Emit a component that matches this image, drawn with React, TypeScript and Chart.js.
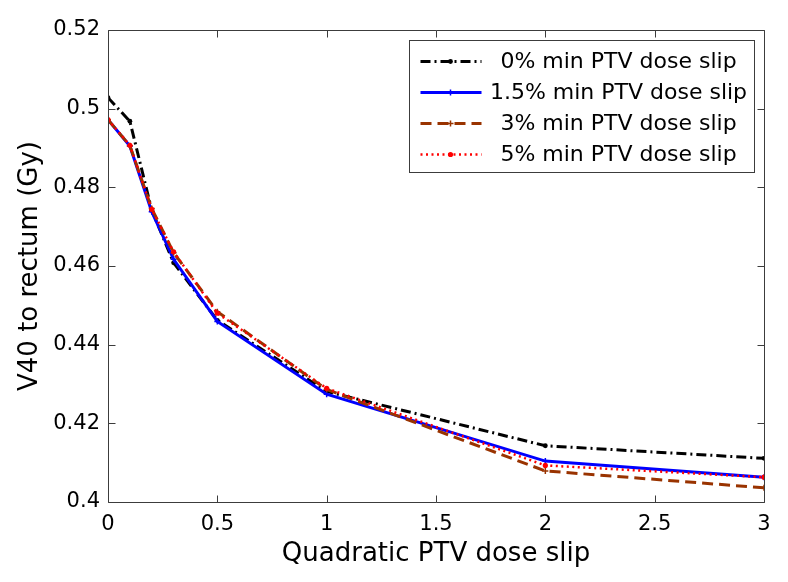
import React, { useEffect, useRef } from 'react';
import { Chart, registerables } from 'chart.js';

Chart.register(...registerables);

// ---- data ----
const xValues = [0, 0.1, 0.2, 0.3, 0.5, 1, 2, 3];
const slip0 = [0.5028, 0.4968, 0.4742, 0.4608, 0.4462, 0.4281, 0.4143, 0.4111];
const slip15 = [0.4972, 0.4905, 0.4738, 0.4617, 0.4459, 0.4274, 0.4104, 0.4063];
const slip3 = [0.4972, 0.4906, 0.4746, 0.4634, 0.4484, 0.4286, 0.4079, 0.4036];
const slip5 = [0.4972, 0.4907, 0.4744, 0.4636, 0.448, 0.4289, 0.4093, 0.4063];
const seriesLabels = [
  '0% min PTV dose slip',
  '1.5% min PTV dose slip',
  '3% min PTV dose slip',
  '5% min PTV dose slip',
];
const xTicks = [0, 0.5, 1, 1.5, 2, 2.5, 3];
const xTickLabels = ['0', '0.5', '1', '1.5', '2', '2.5', '3'];
const yTicks = [0.4, 0.42, 0.44, 0.46, 0.48, 0.5, 0.52];
const yTickLabels = ['0.4', '0.42', '0.44', '0.46', '0.48', '0.5', '0.52'];
const xTitle = 'Quadratic PTV dose slip';
const yTitle = 'V40 to rectum (Gy)';

// ---- styles ----
const FONT = "'DejaVu Sans', 'Liberation Sans', Arial, sans-serif";
const seriesStyles = [
  { color: '#000000', dash: [10, 4, 2, 4], width: 3, marker: 'circle', radius: 2.4, order: 3 },
  { color: '#0000ff', dash: [], width: 3, marker: 'cross', radius: 3, order: 2 },
  { color: '#993300', dash: [11, 6], width: 3, marker: 'cross', radius: 3, order: 1 },
  { color: '#ff0000', dash: [2, 3.5], width: 2.5, marker: 'circle', radius: 2.6, order: 0 },
];
const seriesValues = [slip0, slip15, slip3, slip5];

function drawMarker(ctx: CanvasRenderingContext2D, kind: string, x: number, y: number, r: number, color: string) {
  ctx.save();
  ctx.setLineDash([]);
  ctx.fillStyle = color;
  ctx.strokeStyle = color;
  ctx.lineWidth = 1.5;
  if (kind === 'circle') {
    ctx.beginPath();
    ctx.arc(x, y, r, 0, Math.PI * 2);
    ctx.fill();
  } else {
    ctx.beginPath();
    ctx.moveTo(x - r, y);
    ctx.lineTo(x + r, y);
    ctx.moveTo(x, y - r);
    ctx.lineTo(x, y + r);
    ctx.stroke();
  }
  ctx.restore();
}

const framePlugin = {
  id: 'matlabFrame',
  afterDraw(chart: any) {
    const { ctx, chartArea } = chart;
    const { left, right, top, bottom } = chartArea;
    const xs = chart.scales.x;
    const ys = chart.scales.y;
    ctx.save();
    ctx.strokeStyle = '#3c3c3c';
    ctx.lineWidth = 1;
    ctx.setLineDash([]);
    const L = Math.round(left) + 0.5;
    const R = Math.round(right) + 0.5;
    const T = Math.round(top) + 0.5;
    const B = Math.round(bottom) + 0.5;
    ctx.beginPath();
    ctx.rect(L, T, R - L, B - T);
    ctx.stroke();
    const tl = 7;
    ctx.beginPath();
    xTicks.forEach((v) => {
      const px = Math.round(xs.getPixelForValue(v)) + 0.5;
      ctx.moveTo(px, B);
      ctx.lineTo(px, B - tl);
      ctx.moveTo(px, T);
      ctx.lineTo(px, T + tl);
    });
    yTicks.forEach((v) => {
      const py = Math.round(ys.getPixelForValue(v)) + 0.5;
      ctx.moveTo(L, py);
      ctx.lineTo(L + tl, py);
      ctx.moveTo(R, py);
      ctx.lineTo(R - tl, py);
    });
    ctx.stroke();

    // legend box
    const bw = 345;
    const bh = 132;
    const bx = Math.round(right) - 10 - bw + 0.5;
    const by = Math.round(top) + 10 + 0.5;
    ctx.fillStyle = '#ffffff';
    ctx.fillRect(bx, by, bw, bh);
    ctx.strokeStyle = '#3c3c3c';
    ctx.strokeRect(bx, by, bw, bh);
    const rowH = 31;
    const textCenter = bx + 209;
    ctx.font = `22px ${FONT}`;
    ctx.textAlign = 'center';
    ctx.textBaseline = 'middle';
    seriesLabels.forEach((lab, i) => {
      const st = seriesStyles[i];
      const cy = Math.round(by + 20 + i * rowH) + 0.5;
      ctx.save();
      ctx.strokeStyle = st.color;
      ctx.lineWidth = st.width;
      ctx.setLineDash(st.dash);
      ctx.beginPath();
      ctx.moveTo(bx + 11, cy);
      ctx.lineTo(bx + 72, cy);
      ctx.stroke();
      ctx.restore();
      drawMarker(ctx, st.marker, bx + 41, cy, st.radius, st.color);
      ctx.fillStyle = '#000000';
      ctx.fillText(lab, textCenter, cy + 1);
    });
    ctx.restore();
  },
};

export default function App() {
  const canvasRef = useRef<HTMLCanvasElement | null>(null);

  useEffect(() => {
    const canvas = canvasRef.current;
    if (!canvas) return;
    const datasets = seriesValues.map((vals, i) => {
      const st = seriesStyles[i];
      return {
        label: seriesLabels[i],
        data: xValues.map((x, k) => ({ x, y: vals[k] })),
        borderColor: st.color,
        backgroundColor: st.color,
        borderWidth: st.width,
        borderDash: st.dash,
        pointStyle: st.marker,
        pointRadius: st.radius,
        pointBorderWidth: st.marker === 'cross' ? 1.5 : 0,
        pointBackgroundColor: st.color,
        pointBorderColor: st.color,
        fill: false,
        tension: 0,
        order: st.order,
      };
    });

    const chart = new Chart(canvas, {
      type: 'line',
      data: { datasets },
      plugins: [framePlugin],
      options: {
        animation: false,
        responsive: false,
        devicePixelRatio: 1,
        events: [],
        layout: { padding: { top: 30, right: 24, bottom: 0, left: 0 } },
        plugins: {
          legend: { display: false },
          tooltip: { enabled: false },
          title: { display: false },
        },
        scales: {
          x: {
            type: 'linear',
            min: 0,
            max: 3,
            afterBuildTicks: (scale: any) => {
              scale.ticks = xTicks.map((v) => ({ value: v }));
            },
            afterFit: (scale: any) => {
              scale.height = 80;
            },
            grid: { display: false, drawTicks: false },
            border: { display: false },
            ticks: {
              color: '#000000',
              padding: 10,
              maxRotation: 0,
              autoSkip: false,
              font: { family: FONT, size: 21 },
              callback: (_v: any, idx: number) => xTickLabels[idx],
            },
            title: {
              display: true,
              text: xTitle,
              color: '#000000',
              font: { family: FONT, size: 26 },
              padding: { top: 0, bottom: 12 },
            },
          },
          y: {
            type: 'linear',
            min: 0.4,
            max: 0.52,
            afterBuildTicks: (scale: any) => {
              scale.ticks = yTicks.map((v) => ({ value: v }));
            },
            afterFit: (scale: any) => {
              scale.width = 108;
            },
            grid: { display: false, drawTicks: false },
            border: { display: false },
            ticks: {
              color: '#000000',
              padding: 8,
              autoSkip: false,
              font: { family: FONT, size: 21 },
              callback: (_v: any, idx: number) => yTickLabels[idx],
            },
            title: {
              display: true,
              text: yTitle,
              color: '#000000',
              font: { family: FONT, size: 26 },
              padding: { top: 15, bottom: 0 },
            },
          },
        },
      },
    });
    return () => chart.destroy();
  }, []);

  return (
    <div
      style={{
        position: 'fixed',
        left: 0,
        top: 0,
        width: 788,
        height: 582,
        background: '#ffffff',
      }}
    >
      <canvas ref={canvasRef} width={788} height={582} style={{ display: 'block', width: 788, height: 582 }} />
    </div>
  );
}
